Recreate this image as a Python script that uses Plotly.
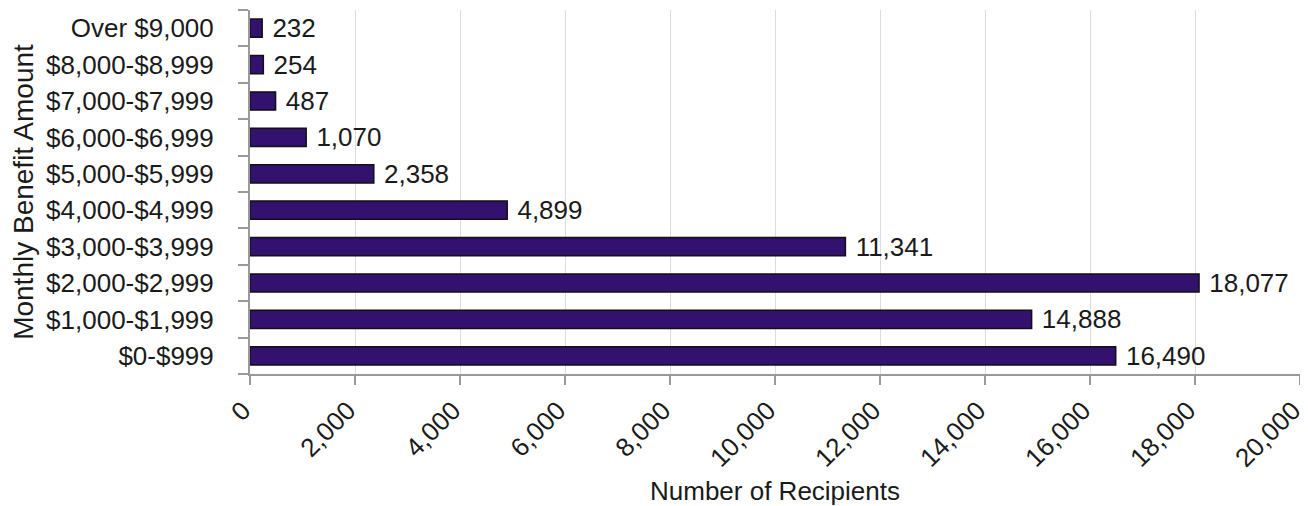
import plotly.graph_objects as go

categories = ["$0-$999", "$1,000-$1,999", "$2,000-$2,999", "$3,000-$3,999",
              "$4,000-$4,999", "$5,000-$5,999", "$6,000-$6,999", "$7,000-$7,999",
              "$8,000-$8,999", "Over $9,000"]
recipients = [16490, 14888, 18077, 11341, 4899, 2358, 1070, 487, 254, 232]
x_ticks = list(range(0, 20001, 2000))

font = "Liberation Sans, Arial, sans-serif"

fig = go.Figure(go.Bar(
    x=recipients, y=categories, orientation="h",
    marker=dict(color="#33116f", line=dict(color="#111111", width=1.5)),
    texttemplate=" %{x:,}", textposition="outside", cliponaxis=False,
    constraintext="none",
    textfont=dict(size=26, color="#1a1a1a", family=font),
    width=0.5,
))

# page body has an 8px margin, so the figure is sized to fit inside the window
fig.update_layout(
    width=1300, height=498,
    margin=dict(l=242, r=8, t=2, b=132, autoexpand=False),
    paper_bgcolor="white", plot_bgcolor="white",
    font=dict(family=font, color="#1a1a1a", size=26),
    showlegend=False,
)
fig.update_xaxes(
    range=[0, 20000.01], tickvals=x_ticks, tickformat=",", tickangle=-45,
    showgrid=True, gridcolor="#dcdcdc", gridwidth=1,
    showline=True, linecolor="#999999", linewidth=2,
    ticks="outside", ticklen=9, tickwidth=2, tickcolor="#999999",
    tickfont=dict(size=26), zeroline=False, automargin=False,
    ticklabelstandoff=0, ticklabelshift=-7, ticklabeloverflow="allow",
    title=dict(text="Number of Recipients", font=dict(size=26), standoff=21),
)
fig.update_yaxes(
    categoryorder="array", categoryarray=categories,
    showline=True, linecolor="#999999", linewidth=2,
    ticks="outside", ticklen=10, tickwidth=2, tickcolor="#999999",
    tickson="boundaries", tickfont=dict(size=26), automargin=False,
    ticklabelstandoff=29,
    title=dict(text="Monthly Benefit Amount", font=dict(size=28), standoff=12),
)

fig.write_html("out.html")
